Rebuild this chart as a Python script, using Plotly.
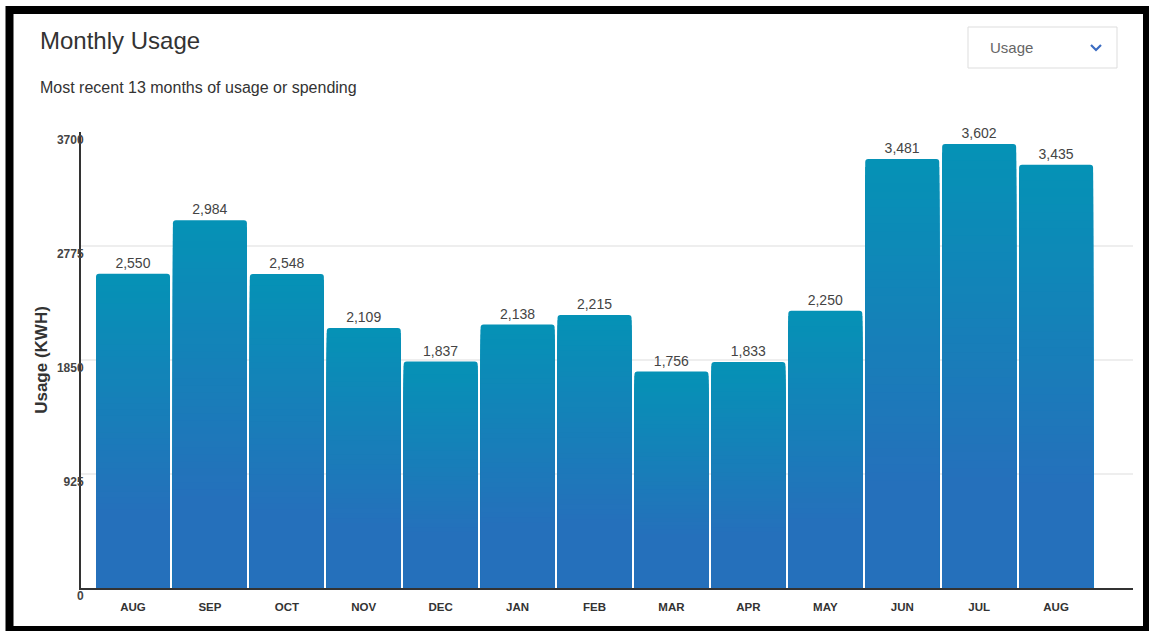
import plotly.graph_objects as go

months = ["AUG", "SEP", "OCT", "NOV", "DEC", "JAN", "FEB", "MAR", "APR", "MAY", "JUN", "JUL", "AUG"]
usage = [2550, 2984, 2548, 2109, 1837, 2138, 2215, 1756, 1833, 2250, 3481, 3602, 3435]
y_ticks = [0, 925, 1850, 2775, 3700]

W, H = 1149, 631
L, R, T, B = 81, 1133, 132, 588


def px(x):
    return (x - L) / (R - L)


def py(y):
    return (B - y) / (B - T)


def mix(c1, c2, t):
    return "rgb(%d,%d,%d)" % tuple(round(a + (b - a) * t) for a, b in zip(c1, c2))


TOP = (5, 146, 182)
BOT = (37, 112, 187)
N = 40
xs = list(range(len(months)))

fig = go.Figure()
for k in range(N + 1):
    frac = 1 - 0.75 * k / N
    tr = dict(
        x=xs,
        y=[v * frac for v in usage],
        marker=dict(color=mix(TOP, BOT, k / N), line=dict(width=0)),
        hoverinfo="skip",
        showlegend=False,
    )
    if k == 0:
        tr.update(
            marker=dict(color=mix(TOP, BOT, 0), line=dict(width=0), cornerradius=3),
            text=usage,
            texttemplate="%{text:,}",
            textposition="outside",
            textfont=dict(family="Liberation Sans, Arial", size=14, color="#444"),
            cliponaxis=False,
            hoverinfo="x+y",
        )
    fig.add_trace(go.Bar(**tr))

fig.update_layout(
    width=W, height=H,
    margin=dict(l=L, r=W - R, t=T, b=H - B),
    paper_bgcolor="white", plot_bgcolor="white",
    barmode="overlay", bargap=0.038,
    font=dict(family="Liberation Sans, Arial", color="#333"),
    xaxis=dict(
        range=[-0.676, 13.0],
        tickvals=xs, ticktext=months,
        tickfont=dict(size=11.5, color="#333", weight="bold"),
        showgrid=False, zeroline=False,
        showline=True, linecolor="#333", linewidth=2,
        ticks="", ticklabelstandoff=7,
    ),
    yaxis=dict(
        range=[0, 3700],
        tickvals=y_ticks, ticktext=[str(v) for v in y_ticks],
        tickfont=dict(size=12, color="#444", weight="bold"),
        showgrid=True, gridcolor="#eeeeee", gridwidth=2,
        zeroline=False,
        showline=True, linecolor="#333", linewidth=2,
        ticks="", ticklabelstandoff=-7, ticklabelshift=8,
        title=dict(text="Usage (KWH)", font=dict(size=17, color="#333", weight="bold"), standoff=5),
    ),
    shapes=[
        dict(type="rect", xref="paper", yref="paper",
             x0=px(968), x1=px(1117), y0=py(27), y1=py(68),
             line=dict(color="#dddddd", width=1), fillcolor="white", layer="above"),
        dict(type="path", xref="paper", yref="paper",
             path="M %f %f L %f %f L %f %f" % (px(1091), py(45), px(1096), py(50), px(1101), py(45)),
             line=dict(color="#3b6cc2", width=2.2)),
        dict(type="rect", xref="paper", yref="paper",
             x0=px(9.5), x1=px(1147), y0=py(10), y1=py(630),
             line=dict(color="black", width=8), fillcolor="rgba(0,0,0,0)", layer="above"),
    ],
    annotations=[
        dict(text="Monthly Usage", xref="paper", yref="paper", x=px(38), y=py(40),
             xanchor="left", yanchor="middle", showarrow=False,
             font=dict(size=24, color="#333")),
        dict(text="Most recent 13 months of usage or spending", xref="paper", yref="paper",
             x=px(38), y=py(87), xanchor="left", yanchor="middle", showarrow=False,
             font=dict(size=16, color="#333")),
        dict(text="Usage", xref="paper", yref="paper", x=px(988), y=py(47),
             xanchor="left", yanchor="middle", showarrow=False,
             font=dict(size=15, color="#666")),
    ],
)

fig.write_html("out.html", config={"displayModeBar": False},
               post_script="document.body.style.margin='0';document.body.style.padding='0';")
